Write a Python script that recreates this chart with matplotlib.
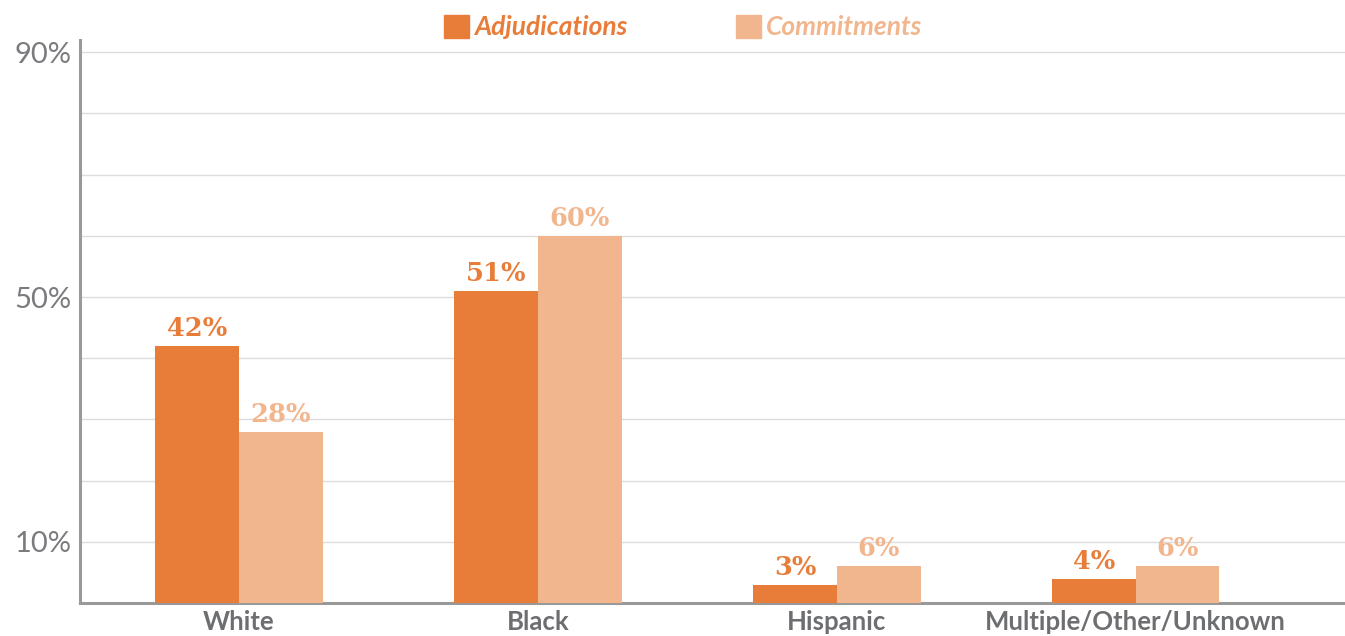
import numpy as np
import matplotlib.pyplot as plt
from matplotlib.patches import Patch

# data
categories = ['White', 'Black', 'Hispanic', 'Multiple/Other/Unknown']
adjudications = [42, 51, 3, 4]
commitments = [28, 60, 6, 6]
series_names = ['Adjudications', 'Commitments']
ytick_vals = [10, 50, 90]

c_adj = '#E87D3A'
c_com = '#F2B68E'
grey = '#6D6E71'

fig = plt.figure(figsize=(13.45, 6.36), dpi=100)
ax = fig.add_axes([80 / 1345, 33 / 636, 1 - 80 / 1345, (603 - 40) / 636])

x = np.arange(len(categories))
w = 0.28
ax.bar(x - w / 2, adjudications, w, color=c_adj, zorder=3)
ax.bar(x + w / 2, commitments, w, color=c_com, zorder=3)

# value labels
for xi, v in zip(x, adjudications):
    ax.text(xi - w / 2, v + 0.8, f'{v}%', ha='center', va='bottom', color=c_adj,
            fontsize=18.5, fontweight='bold', family='DejaVu Serif')
for xi, v in zip(x, commitments):
    ax.text(xi + w / 2, v + 0.8, f'{v}%', ha='center', va='bottom', color=c_com,
            fontsize=18.5, fontweight='bold', family='DejaVu Serif')

ax.set_xlim(-0.532, 3.70)
ax.set_ylim(0, 92)
ax.set_yticks(np.arange(10, 91, 10), minor=False)
ax.set_yticklabels([f'{t}%' if t in ytick_vals else '' for t in range(10, 91, 10)],
                   fontsize=21, color='#7A7B7E', family='Lato', fontweight='normal')
ax.set_xticks(x)
ax.set_xticklabels(categories, fontsize=18.5, color=grey, family='Lato', fontweight='bold')
ax.tick_params(axis='both', length=0)
ax.tick_params(axis='x', pad=5)
ax.tick_params(axis='y', pad=6)
ax.grid(axis='y', color='#DCDCDC', linewidth=1.0, zorder=0)

for s in ['top', 'right']:
    ax.spines[s].set_visible(False)
for s in ['left', 'bottom']:
    ax.spines[s].set_color('#999999')
    ax.spines[s].set_linewidth(2.2)

handles = [Patch(color=c_adj), Patch(color=c_com)]
leg = fig.legend(handles, series_names, loc='upper center', bbox_to_anchor=(0.508, 1.014),
                 ncol=2, frameon=False, handlelength=0.95, handleheight=0.95,
                 handletextpad=0.2, columnspacing=4.1,
                 prop={'family': 'Lato', 'weight': 'bold', 'style': 'italic', 'size': 19})
for t, c in zip(leg.get_texts(), [c_adj, c_com]):
    t.set_color(c)

fig.savefig('out.png', dpi=100)
